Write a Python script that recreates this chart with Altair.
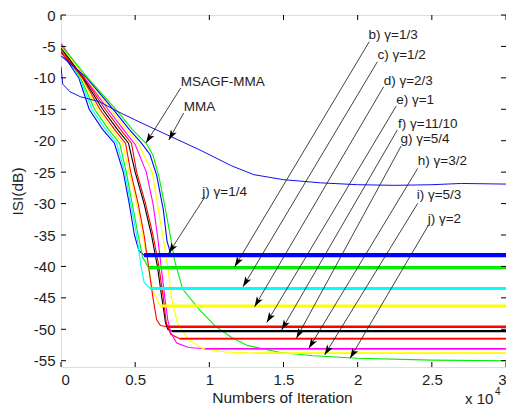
import math
import altair as alt
import pandas as pd

# ---------------- data (x in units of 1e4 iterations, y in dB) ----------------
X_TICKS = [0, 0.5, 1, 1.5, 2, 2.5, 3]
Y_TICKS = [0, -5, -10, -15, -20, -25, -30, -35, -40, -45, -50, -55]

mma_x = [0, 0.012, 0.06, 0.13, 0.26, 0.37, 0.5, 0.7, 0.93, 1.15, 1.3, 1.5, 1.75, 2.0, 2.25, 2.5, 2.7, 3.0]
mma_y = [-8.2, -11.0, -12.2, -13.0, -13.8, -15.2, -16.7, -18.9, -21.4, -24.0, -25.4, -26.2, -26.7, -27.0, -27.1, -27.0, -26.8, -26.9]

blueL_x = [0, 0.12, 0.19, 0.28, 0.36, 0.42, 0.46, 0.495, 0.525, 0.56, 3.0]
blueL_y = [-5.8, -10, -15, -18.2, -20.4, -25, -30, -35, -37.5, -38.2, -38.2]

cyan_x = [0, 0.126, 0.208, 0.3, 0.375, 0.43, 0.47, 0.51, 0.54, 0.56, 0.6, 3.0]
cyan_y = [-5.3, -10, -15, -18.2, -20.4, -25, -30, -35, -40, -42.5, -43.5, -43.5]

greenL_x = [0, 0.132, 0.226, 0.32, 0.395, 0.44, 0.48, 0.52, 0.55, 0.59, 3.0]
greenL_y = [-4.8, -10, -15, -18.2, -20.4, -25, -30, -35, -38.5, -40.2, -40.2]

yellow_x = [0, 0.138, 0.244, 0.34, 0.415, 0.46, 0.51, 0.55, 0.59, 0.62, 0.67, 3.0]
yellow_y = [-5.0, -10, -15, -18.2, -20.4, -25, -30, -35, -40, -44, -46.3, -46.3]

red_x = [0, 0.144, 0.262, 0.36, 0.435, 0.47, 0.52, 0.56, 0.59, 0.62, 0.645, 0.67, 0.72, 3.0]
red_y = [-5.5, -10, -15, -18.2, -20.4, -25, -30, -35, -40, -45, -48.5, -49.4, -49.6, -49.6]

black_x = [0, 0.15, 0.28, 0.38, 0.455, 0.5, 0.56, 0.61, 0.65, 0.68, 0.705, 0.72, 0.75, 3.0]
black_y = [-5.2, -10, -15, -18.2, -20.4, -25, -30, -35, -40, -45, -49, -50, -50.3, -50.3]

red2_x = [0, 0.156, 0.298, 0.4, 0.475, 0.51, 0.57, 0.62, 0.66, 0.69, 0.71, 0.74, 0.8, 3.0]
red2_y = [-6.0, -10, -15, -18.2, -20.4, -25, -30, -35, -40, -45, -49, -50.8, -51.5, -51.5]

magenta_x = [0, 0.162, 0.316, 0.42, 0.5, 0.575, 0.62, 0.65, 0.675, 0.7, 0.72, 0.74, 0.78, 0.86, 0.97, 3.0]
magenta_y = [-4.5, -10, -15, -18.2, -20.6, -25, -30, -35, -40, -45, -48.5, -50.5, -52.2, -52.9, -53.1, -53.1]

yellow2_x = [0, 0.168, 0.334, 0.44, 0.525, 0.615, 0.65, 0.685, 0.72, 0.745, 0.785, 0.86, 0.95, 1.1, 1.3, 3.0]
yellow2_y = [-5.0, -10, -15, -18.2, -20.6, -25, -30, -35, -40, -45, -49, -51.6, -53, -53.6, -53.8, -53.8]

blueR_x = [0, 0.174, 0.352, 0.46, 0.54, 0.6, 0.645, 0.69, 0.715, 0.74, 0.78, 3.0]
blueR_y = [-6.5, -10, -15, -18.2, -20.3, -22.2, -25.5, -31, -36, -38, -38.2, -38.2]

green2_x = [0, 0.18, 0.37, 0.48, 0.58, 0.62, 0.66, 0.705, 0.745, 0.765, 0.82, 0.93, 1.04, 1.15, 1.26, 1.48, 1.7, 2.0, 2.5, 3.0]
green2_y = [-4.8, -10, -15, -18.2, -20.6, -22.3, -25.7, -31, -36.2, -39, -43.6, -46.8, -49.5, -51.3, -52.6, -53.7, -54.2, -54.6, -54.9, -55.0]

# noisy steady-state bands (level, start of plateau)
plateau_series = ["blue", "green", "cyan", "yellow", "red", "black", "red2", "magenta", "yellow2"]
plateau_level = [-38.2, -40.2, -43.5, -46.3, -49.6, -50.3, -51.5, -53.1, -53.8]
plateau_start = [0.56, 0.59, 0.6, 0.67, 0.72, 0.75, 0.8, 0.97, 1.3]

# annotation labels
label_text = ["MSAGF-MMA", "MMA", "j) γ=1/4", "b) γ=1/3", "c) γ=1/2", "d) γ=2/3", "e) γ=1",
              "f) γ=11/10", "g) γ=5/4", "h) γ=3/2", "i) γ=5/3", "j) γ=2"]
label_x = [0.807, 0.827, 0.953, 2.073, 2.133, 2.175, 2.26, 2.272, 2.288, 2.405, 2.398, 2.472]
label_y = [-10.66, -14.64, -28.16, -3.18, -6.36, -10.5, -13.52, -17.34, -19.73, -23.23, -28.64, -32.45]

# arrows: start -> tip
arrow_x0 = [0.807, 0.827, 0.971, 2.078, 2.133, 2.175, 2.26, 2.267, 2.293, 2.405, 2.405, 2.478]
arrow_y0 = [-11.61, -15.59, -28.91, -4.25, -7.43, -11.41, -14.48, -18.3, -20.84, -24.39, -29.96, -33.41]
arrow_x1 = [0.573, 0.727, 0.727, 1.171, 1.227, 1.305, 1.387, 1.487, 1.587, 1.671, 1.777, 1.949]
arrow_y1 = [-20.36, -19.89, -37.86, -40.04, -43.23, -46.41, -48.92, -50.11, -51.43, -53.03, -54.09, -54.62]

# exponent note under the x axis
exp_text = ["x 10", "4"]
exp_x = [2.915, 2.925]
exp_y = [-61.1, -59.9]

# ---------------- styles ----------------
W, H = 445, 352
XDOM, YDOM = [0, 3], [-56, 0]
FONT = "Liberation Sans"
TXT = "#1e1e1e"

curves = [
    ("blueL", blueL_x, blueL_y, "#0000ff", 1.1),
    ("cyan", cyan_x, cyan_y, "#00ffff", 1.1),
    ("greenL", greenL_x, greenL_y, "#00ee00", 1.1),
    ("yellow", yellow_x, yellow_y, "#ffff00", 1.1),
    ("red", red_x, red_y, "#ff0000", 1.1),
    ("black", black_x, black_y, "#000000", 1.1),
    ("red2", red2_x, red2_y, "#ff0000", 1.1),
    ("magenta", magenta_x, magenta_y, "#ff00ff", 1.1),
    ("yellow2", yellow2_x, yellow2_y, "#ffff00", 1.1),
    ("blueR", blueR_x, blueR_y, "#0000ff", 1.1),
    ("green2", green2_x, green2_y, "#00ee00", 1.1),
    ("MMA", mma_x, mma_y, "#1010f0", 1.0),
]
plateau_color = {"blue": "#0000ff", "green": "#00ee00", "cyan": "#00ffff", "yellow": "#ffff00",
                 "red": "#ff0000", "black": "#000000", "red2": "#ff0000", "magenta": "#ff00ff",
                 "yellow2": "#ffff00"}
plateau_width = {"blue": 4.2, "green": 3.2, "cyan": 3.0, "yellow": 3.0, "red": 2.6, "black": 2.2,
                 "red2": 1.7, "magenta": 1.7, "yellow2": 1.6}

rows = []
for name, xs, ys, col, w in curves:
    for i, (a, b) in enumerate(zip(xs, ys)):
        rows.append({"s": name, "i": i, "x": a, "y": b, "c": col, "w": w})
curve_df = pd.DataFrame(rows)

plat_df = pd.DataFrame({"s": plateau_series, "y": plateau_level, "x": plateau_start,
                        "x2": [3.0] * len(plateau_series),
                        "c": [plateau_color[s] for s in plateau_series],
                        "w": [plateau_width[s] for s in plateau_series]})

px_x = W / (XDOM[1] - XDOM[0])
px_y = H / (YDOM[1] - YDOM[0])
angles = []
for a0, b0, a1, b1 in zip(arrow_x0, arrow_y0, arrow_x1, arrow_y1):
    dx = (a1 - a0) * px_x
    dy = -(b1 - b0) * px_y
    angles.append(math.degrees(math.atan2(dx, -dy)) % 360)
arrow_df = pd.DataFrame({"x": arrow_x0, "y": arrow_y0, "x2": arrow_x1, "y2": arrow_y1, "ang": angles})
label_df = pd.DataFrame({"t": label_text, "x": label_x, "y": label_y})

TICK_PX = 5
tx = TICK_PX / px_x
ty = TICK_PX / px_y
tick_rows = []
for v in X_TICKS:
    tick_rows.append({"x": v, "x2": v, "y": YDOM[0], "y2": YDOM[0] + ty})
    tick_rows.append({"x": v, "x2": v, "y": YDOM[1], "y2": YDOM[1] - ty})
for v in Y_TICKS:
    tick_rows.append({"x": XDOM[0], "x2": XDOM[0] + tx, "y": v, "y2": v})
    tick_rows.append({"x": XDOM[1], "x2": XDOM[1] - tx, "y": v, "y2": v})
tick_df = pd.DataFrame(tick_rows)

xscale = alt.Scale(domain=XDOM, nice=False, zero=False)
yscale = alt.Scale(domain=YDOM, nice=False, zero=False)
xaxis = alt.Axis(values=X_TICKS, format="~g", title="Numbers of Iteration", grid=False, ticks=False,
                 domain=False, labelFont=FONT, labelFontSize=15, labelColor=TXT, labelPadding=5,
                 titleFont=FONT, titleFontSize=15.5, titleFontWeight="normal", titleColor=TXT,
                 titleX=221, titleY=30, titleBaseline="middle", titleAlign="center")
yaxis = alt.Axis(values=Y_TICKS, labelExpr="'' + datum.value", title="ISI(dB)", grid=False, ticks=False,
                 domain=False, labelFont=FONT, labelFontSize=15, labelColor=TXT, labelPadding=6,
                 titleFont=FONT, titleFontSize=15.5, titleFontWeight="normal", titleColor=TXT,
                 titleX=-44, titleY=176, titleAngle=270, titleBaseline="middle", titleAlign="center")


def X(f):
    return alt.X(f, type="quantitative", scale=xscale, axis=xaxis)


def Y(f):
    return alt.Y(f, type="quantitative", scale=yscale, axis=yaxis)


curve_layer = alt.Chart(curve_df).mark_line(clip=True).encode(
    x=X("x"), y=Y("y"), detail="s:N",
    color=alt.Color("c:N", scale=None), size=alt.Size("w:Q", scale=None),
    order="i:Q")

plat_layer = alt.Chart(plat_df).mark_rule().encode(
    x=X("x"), x2="x2", y=Y("y"),
    color=alt.Color("c:N", scale=None), size=alt.Size("w:Q", scale=None))

arrow_layer = alt.Chart(arrow_df).mark_rule(color="#111111", strokeWidth=0.8).encode(
    x=X("x"), y=Y("y"), x2="x2", y2="y2")

head_layer = alt.Chart(arrow_df).mark_point(
    shape="M0,0L-0.75,2.3L0,1.75L0.75,2.3Z", filled=True, color="#000000", opacity=1,
    size=80, strokeWidth=0).encode(x=X("x2"), y=Y("y2"), angle=alt.Angle("ang:Q", scale=None))

label_layer = alt.Chart(label_df).mark_text(
    align="left", baseline="middle", font=FONT, fontSize=13.5, color=TXT).encode(
    x=X("x"), y=Y("y"), text="t:N")

tick_layer = alt.Chart(tick_df).mark_rule(color="#000000", strokeWidth=1).encode(
    x=X("x"), x2="x2", y=Y("y"), y2="y2")

exp_df = pd.DataFrame({"t": exp_text, "x": exp_x, "y": exp_y})
exp_main = alt.Chart(exp_df.iloc[[0]]).mark_text(
    align="right", baseline="middle", font=FONT, fontSize=15, color=TXT).encode(
    x=X("x"), y=Y("y"), text="t:N")
exp_sup = alt.Chart(exp_df.iloc[[1]]).mark_text(
    align="left", baseline="middle", font=FONT, fontSize=10, color=TXT).encode(
    x=X("x"), y=Y("y"), text="t:N")

chart = alt.layer(curve_layer, plat_layer, arrow_layer, head_layer, label_layer, tick_layer,
                  exp_main, exp_sup).properties(
    width=W, height=H,
    autosize=alt.AutoSizeParams(type="none"),
    padding={"left": 53, "top": 7, "right": 0, "bottom": 39},
).configure_view(stroke="#000000", strokeWidth=1).configure(background="white")

chart.save("out.html", embed_options={"renderer": "svg", "actions": False})
